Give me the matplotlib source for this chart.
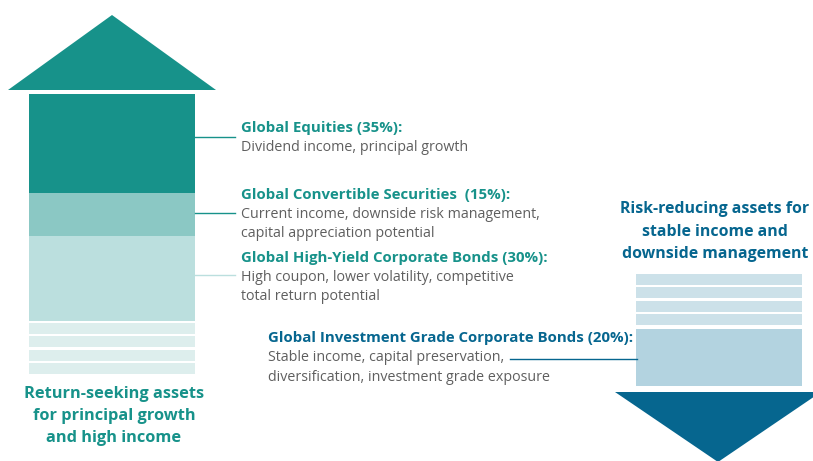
import matplotlib
matplotlib.use("Agg")
import matplotlib.pyplot as plt
from matplotlib.patches import Polygon
import numpy as np

# ---- data ----
left_names = ["Global Equities (35%):", "Global Convertible Securities  (15%):",
              "Global High-Yield Corporate Bonds (30%):"]
left_weights = [35, 15, 30]
left_desc = ["Dividend income, principal growth",
             "Current income, downside risk management,\ncapital appreciation potential",
             "High coupon, lower volatility, competitive\ntotal return potential"]
right_names = ["Global Investment Grade Corporate Bonds (20%):"]
right_weights = [20]
right_desc = ["Stable income, capital preservation,\ndiversification, investment grade exposure"]
left_title = "Return-seeking assets\nfor principal growth\nand high income"
right_title = "Risk-reducing assets for\nstable income and\ndownside management"

left_colors = ["#17928A", "#8BC8C4", "#BBDFDE"]
left_stripe = "#DDEEED"
right_colors = ["#B3D3E0"]
right_stripe = "#CCE1E9"
teal = "#17928A"
blue = "#06668F"
gray = "#5F5F5F"

W, H = 813, 461
fig = plt.figure(figsize=(W/100, H/100), dpi=100)
ax = fig.add_axes([0, 0, 1, 1])
ax.set_xlim(0, W)
ax.set_ylim(H, 0)
ax.axis("off")

FONT = "Open Sans"
BSZ = 10.8  # bold label size
RSZ = 10.3  # description size
TSZ = 11.8  # left title size
RTSZ = 11.4  # right title size
scale = 2.84  # px per percentage point


def lines(x, y0, text, step, **kw):
    for k, ln in enumerate(text.split("\n")):
        ax.text(x, y0 + k * step, ln, va="center", family=FONT, **kw)


# ---- left column ----
lx0, lx1 = 29, 195
top = 94
for w, c in zip(left_weights, left_colors):
    h = w * scale
    ax.bar((lx0 + lx1) / 2, h, width=lx1 - lx0, bottom=top, color=c, linewidth=0)
    top += h
for y0 in [323, 336, 350, 363]:
    ax.bar((lx0 + lx1) / 2, 11, width=lx1 - lx0, bottom=y0, color=left_stripe, linewidth=0)
ax.add_patch(Polygon([(8, 90), (216, 90), (112, 15)], closed=True, color=teal, lw=0))

# connectors and labels
conn_y = [137, 213, 275]
conn_c = [teal, teal, "#BBDFDE"]
name_y = [128, 195, 258]
for i in range(3):
    ax.plot([lx1, 235], [conn_y[i], conn_y[i]], color=conn_c[i], lw=1.0)
    ax.text(241, name_y[i], left_names[i], color=teal, fontsize=BSZ, fontweight="bold",
            family=FONT, va="center", ha="left")
    lines(241, name_y[i] + 19, left_desc[i], 19, color=gray, fontsize=RSZ, ha="left")

lines(114, 394, left_title, 22, color=teal, fontsize=TSZ, fontweight="bold", ha="center")

# ---- right column ----
rx0, rx1 = 636, 802
for y0 in [274, 287, 301, 314]:
    ax.bar((rx0 + rx1) / 2, 11, width=rx1 - rx0, bottom=y0, color=right_stripe, linewidth=0)
rtop = 329
for w, c in zip(right_weights, right_colors):
    ax.bar((rx0 + rx1) / 2, w * scale, width=rx1 - rx0, bottom=rtop, color=c, linewidth=0)
    rtop += w * scale
ax.add_patch(Polygon([(615, 392), (821, 392), (718, 462)], closed=True, color=blue, lw=0))

ax.plot([510, 637], [359, 359], color=blue, lw=1.0)
ax.text(268, 338, right_names[0], color=blue, fontsize=BSZ, fontweight="bold",
        family=FONT, va="center", ha="left")
lines(268, 357, right_desc[0], 20, color=gray, fontsize=RSZ, ha="left")

lines(715, 209, right_title, 22.5, color=blue, fontsize=RTSZ, fontweight="bold", ha="center")

fig.savefig("out.png", dpi=100)
